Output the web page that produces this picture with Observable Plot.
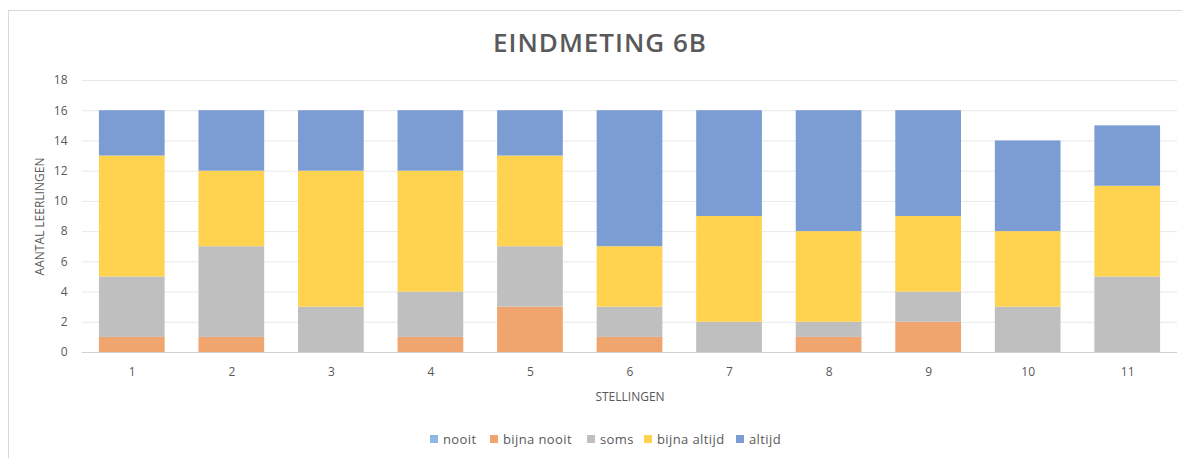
<!DOCTYPE html>
<html><head><meta charset="utf-8">
<script src="https://cdn.jsdelivr.net/npm/d3@7"></script>
<script src="https://cdn.jsdelivr.net/npm/@observablehq/plot@0.6"></script>
<style>
html,body{margin:0;padding:0;background:#fff;overflow:hidden;width:1182px;height:458px;font-family:"Open Sans",sans-serif;}
#frame{position:absolute;left:8px;top:10px;width:1200px;height:470px;border:1px solid #d9d9d9;box-sizing:border-box;}
#title{position:absolute;left:400px;width:400px;top:26px;text-align:center;font-size:26px;font-weight:600;color:#595959;letter-spacing:1px;line-height:32px;}
#chart{position:absolute;left:0;top:70px;}
#legend{position:absolute;left:0;top:431px;width:1182px;height:16px;font-size:13px;letter-spacing:0.4px;color:#595959;line-height:16px;}
#legend .item{position:absolute;top:0;display:flex;align-items:center;gap:5px;white-space:nowrap;}
#legend .sw{width:8px;height:8px;display:inline-block;}
</style></head>
<body>
<div id="frame"></div>
<div id="title">EINDMETING 6B</div>
<div id="chart"></div>
<div id="legend"></div>
<script>
const categories = ["1","2","3","4","5","6","7","8","9","10","11"];
const seriesNames = ["nooit","bijna nooit","soms","bijna altijd","altijd"];
const nooit       = [0,0,0,0,0,0,0,0,0,0,0];
const bijnaNooit  = [1,1,0,1,3,1,0,1,2,0,0];
const soms        = [4,6,3,3,4,2,2,1,2,3,5];
const bijnaAltijd = [8,5,9,8,6,4,7,6,5,5,6];
const altijd      = [3,4,4,4,3,9,7,8,7,6,4];
const seriesColors = ["#8db9e2","#f0a46e","#bfbfbf","#ffd24f","#7b9dd4"];
const yTicks = [0,2,4,6,8,10,12,14,16,18];

// legend layout (pixel offsets of each entry)
const legendLeft = [430, 490, 587, 644, 736];

const seriesValues = [nooit, bijnaNooit, soms, bijnaAltijd, altijd];
const table = [];
seriesNames.forEach((s, i) => {
  categories.forEach((c, j) => table.push({cat: c, serie: s, value: seriesValues[i][j]}));
});

const chart = Plot.plot({
  width: 1182, height: 340,
  marginLeft: 82, marginRight: 5, marginTop: 10, marginBottom: 58,
  style: {background: "transparent", fontFamily: "Open Sans", fontSize: "12px", color: "#595959"},
  x: {domain: categories, paddingInner: 0.34, paddingOuter: 0.17, round: false},
  y: {domain: [0, 18]},
  color: {domain: seriesNames, range: seriesColors},
  marks: [
    Plot.gridY(yTicks, {stroke: "#e8e8e8", strokeOpacity: 1}),
    Plot.barY(table, {x: "cat", y: "value", fill: "serie"}),
    Plot.ruleY([0], {stroke: "#d0d0d0", strokeWidth: 1.2}),
    Plot.axisY(yTicks, {tickSize: 0, tickPadding: 15, label: "AANTAL LEERLINGEN", labelAnchor: "center", labelOffset: 47, labelArrow: "none", fill: "#595959"}),
    Plot.axisX({tickSize: 0, tickPadding: 15, label: "STELLINGEN", labelAnchor: "center", labelOffset: 48, labelArrow: "none", fill: "#595959"})
  ]
});
document.getElementById("chart").appendChild(chart);

const legend = document.getElementById("legend");
seriesNames.forEach((s, i) => {
  const item = document.createElement("span");
  item.className = "item";
  item.style.left = legendLeft[i] + "px";
  const sw = document.createElement("span");
  sw.className = "sw";
  sw.style.background = seriesColors[i];
  item.appendChild(sw);
  const t = document.createElement("span");
  t.textContent = s;
  item.appendChild(t);
  legend.appendChild(item);
});
</script>
</body></html>
